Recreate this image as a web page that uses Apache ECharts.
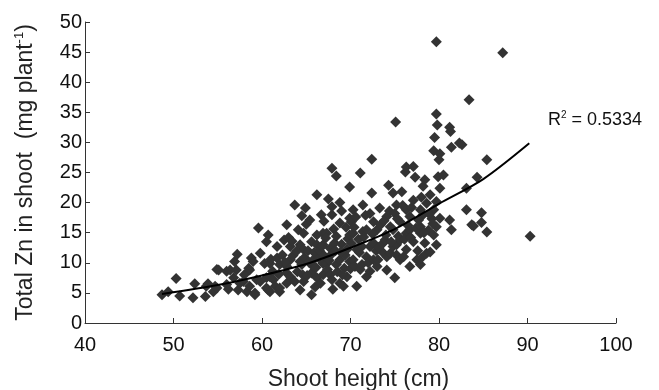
<!DOCTYPE html>
<html>
<head>
<meta charset="utf-8">
<script src="https://cdn.jsdelivr.net/npm/echarts@6/dist/echarts.min.js"></script>
<style>
  html, body { margin: 0; padding: 0; background: #fff; }
  #chart { width: 659px; height: 390px; }
</style>
</head>
<body>
<div id="chart"></div>
<script>
// scatter values (shoot height in cm, total Zn in mg/plant)
const shootHeight = [
  48.7, 49.4, 50.3, 50.7, 52.2, 52.4, 53.6, 53.7, 53.9, 54.5, 54.7, 54.9, 54.9, 55.1, 56.0, 56.0, 56.2, 56.4, 56.8, 57.1,
  56.9, 57.2, 57.3, 57.5, 57.9, 58.0, 58.3, 58.5, 58.6, 58.6, 58.8, 59.0, 59.2, 59.2, 59.4, 59.6, 59.8, 59.8, 60.3, 60.5,
  60.5, 60.5, 60.7, 60.7, 60.9, 60.9, 60.9, 61.0, 61.2, 61.3, 61.5, 61.7, 61.7, 62.0, 62.0, 62.0, 62.3, 62.5, 62.8, 62.8,
  62.8, 62.8, 63.0, 63.2, 63.2, 63.2, 63.5, 63.7, 63.7, 64.0, 64.1, 64.3, 64.3, 64.3, 64.5, 64.5, 64.7, 64.7, 64.7, 64.8,
  64.9, 65.0, 65.2, 65.4, 65.6, 65.6, 65.6, 65.8, 65.8, 65.9, 66.0, 66.2, 66.2, 66.2, 66.2, 66.4, 66.5, 66.6, 66.7, 66.9,
  66.9, 66.9, 66.9, 67.0, 67.0, 67.3, 67.3, 67.4, 67.5, 67.7, 67.7, 67.9, 67.9, 67.9, 67.9, 67.9, 68.0, 68.2, 68.3, 68.4,
  68.4, 68.4, 68.5, 68.8, 68.8, 68.8, 68.8, 69.0, 69.0, 69.2, 69.3, 69.4, 69.6, 69.6, 69.7, 69.9, 69.9, 69.9, 69.9, 70.0,
  70.1, 70.1, 70.3, 70.3, 70.3, 70.5, 70.7, 70.7, 70.9, 71.1, 71.1, 71.3, 71.3, 71.4, 71.4, 71.5, 71.8, 71.8, 71.8, 72.0,
  72.2, 72.2, 72.2, 72.4, 72.4, 72.6, 72.6, 72.6, 72.9, 73.0, 73.0, 73.1, 73.3, 73.4, 73.6, 73.7, 73.9, 74.0, 74.1, 74.1,
  74.1, 74.3, 74.4, 74.5, 74.5, 74.8, 74.8, 74.8, 75.0, 75.0, 75.1, 75.2, 75.2, 75.2, 75.4, 75.6, 75.6, 75.6, 75.8, 75.9,
  76.0, 76.2, 76.3, 76.3, 76.3, 76.3, 76.5, 76.7, 76.7, 76.7, 76.9, 77.1, 77.1, 77.1, 77.3, 77.4, 77.5, 77.6, 77.9, 77.9,
  77.9, 77.9, 78.0, 78.0, 78.2, 78.2, 78.4, 78.4, 78.6, 78.6, 78.8, 79.0, 79.0, 79.2, 79.4, 79.4, 79.4, 79.5, 79.7, 79.7,
  79.7, 79.7, 79.7, 79.8, 79.9, 80.0, 80.1, 80.1, 80.1, 80.5, 81.2, 81.2, 81.3, 81.4, 81.4, 82.3, 82.6, 83.1, 83.1, 83.4,
  83.7, 83.9, 84.3, 84.8, 84.8, 85.4, 85.4, 87.2, 90.3,
  // extra points in the dense middle where marks overlap
  63.9, 64.6, 65.3, 66.1, 66.8, 67.6, 68.1, 68.9, 69.5, 70.6, 71.0, 71.7, 72.5, 73.2, 73.8, 74.6, 75.3, 76.1, 76.8, 77.7,
  78.3, 78.9, 79.3, 61.9, 62.6, 63.4, 65.1, 67.2, 69.1, 70.4
];
const totalZn = [
  4.7, 5.2, 7.4, 4.5, 4.2, 6.5, 4.4, 6.1, 6.5, 5.2, 6.1, 8.9, 5.8, 8.8, 8.6, 6.4, 5.6, 8.8, 7.5, 8.8,
  10.2, 11.4, 5.5, 6.6, 6.9, 8.0, 5.2, 9.1, 6.1, 8.8, 10.8, 10.2, 5.0, 4.7, 7.2, 15.8, 11.6, 6.9, 9.9, 13.5,
  7.5, 5.8, 14.6, 5.5, 5.2, 9.9, 7.7, 10.6, 8.6, 7.2, 6.1, 12.7, 10.8, 9.7, 5.2, 5.8, 11.3, 13.8, 16.3, 6.6,
  8.3, 9.4, 14.2, 12.7, 10.5, 7.7, 11.2, 6.9, 19.6, 8.5, 15.5, 13.0, 10.2, 5.5, 9.7, 17.8, 14.9, 12.2, 6.9, 10.9,
  19.1, 16.4, 12.0, 17.1, 13.5, 4.7, 8.3, 10.5, 9.4, 11.7, 6.0, 21.3, 14.6, 13.0, 7.5, 10.8, 12.1, 6.6, 18.0, 13.0,
  14.9, 9.9, 8.0, 11.2, 16.9, 14.9, 9.9, 8.9, 20.6, 12.4, 8.0, 25.7, 18.0, 19.3, 7.2, 11.5, 5.6, 13.3, 12.0, 24.4,
  14.4, 9.7, 8.5, 20.0, 10.5, 16.6, 6.6, 13.1, 18.6, 6.1, 9.1, 11.3, 12.2, 7.7, 14.0, 22.6, 17.4, 14.6, 10.2, 9.0,
  16.8, 13.2, 18.8, 14.9, 10.5, 9.4, 6.1, 12.2, 13.9, 24.9, 8.9, 12.7, 9.7, 19.6, 15.2, 14.3, 15.5, 11.0, 7.7, 10.0,
  18.2, 12.7, 8.6, 27.2, 21.6, 16.8, 13.3, 10.5, 12.0, 9.4, 15.5, 10.5, 19.1, 16.3, 11.8, 13.3, 13.8, 14.6, 17.7, 8.8,
  11.0, 22.9, 18.6, 11.6, 16.0, 21.6, 15.5, 12.7, 18.2, 7.5, 33.4, 19.6, 11.3, 13.0, 14.4, 16.8, 13.8, 10.5, 21.8, 19.5,
  11.0, 25.1, 25.9, 18.8, 14.9, 12.2, 16.2, 15.5, 9.4, 17.7, 19.2, 26.0, 20.4, 13.5, 24.2, 15.8, 10.5, 12.0, 16.0, 9.7,
  18.8, 14.9, 10.8, 20.9, 18.0, 22.7, 23.8, 13.3, 11.6, 19.9, 15.4, 21.3, 11.8, 17.3, 28.6, 18.8, 14.6, 30.8, 46.7, 34.7,
  20.2, 16.0, 13.0, 32.9, 24.3, 27.1, 28.1, 22.4, 17.4, 24.6, 32.5, 17.1, 31.8, 29.2, 15.5, 29.9, 29.6, 22.4, 18.8, 37.1,
  16.3, 16.1, 24.2, 18.3, 16.7, 27.1, 15.1, 44.9, 14.4,
  11.9, 8.0, 10.1, 9.2, 12.8, 10.4, 15.6, 11.8, 15.9, 17.6, 11.7, 17.9, 14.8, 12.6, 17.0, 13.5, 17.3, 13.9, 14.2, 17.1,
  15.0, 18.1, 16.5, 8.1, 10.1, 13.6, 7.9, 14.1, 8.0, 15.9
];

// fitted trend line
const trendHeight = [48.7, 55, 60, 65, 70, 75, 80, 85, 90.2];
const trendZn = [4.8, 6.3, 7.9, 9.8, 12.5, 15.6, 19.8, 23.9, 29.85];

const rSquared = '0.5334';

const FONT = '"Liberation Sans", Arial, sans-serif';

const chart = echarts.init(document.getElementById('chart'));

const points = shootHeight.map((h, i) => [h, totalZn[i]]);
const trend = trendHeight.map((h, i) => [h, trendZn[i]]);

chart.setOption({
  animation: false,
  backgroundColor: '#fff',
  grid: { left: 85, right: 43, top: 22, bottom: 67, outerBoundsMode: 'none' },
  xAxis: {
    type: 'value',
    min: 40,
    max: 100,
    interval: 10,
    name: 'Shoot height (cm)',
    nameLocation: 'middle',
    nameGap: 45,
    nameMoveOverlap: false,
    nameTextStyle: { fontFamily: FONT, fontSize: 23, color: '#222', padding: [0, 0, 0, 16] },
    axisLine: { lineStyle: { color: '#333', width: 1 } },
    axisTick: { inside: true, length: 5, lineStyle: { color: '#333' } },
    axisLabel: { fontFamily: FONT, fontSize: 20, color: '#111', margin: 12 },
    splitLine: { show: false }
  },
  yAxis: {
    type: 'value',
    min: 0,
    max: 50,
    interval: 5,
    name: '{a|Total Zn in shoot  (mg plant}{s|-1}{a|)}',
    nameLocation: 'middle',
    nameGap: 47,
    nameMoveOverlap: false,
    nameTextStyle: {
      rich: {
        a: { fontFamily: FONT, fontSize: 23, color: '#222' },
        s: { fontFamily: FONT, fontSize: 13, color: '#222', padding: [0, 0, 12, 0] }
      }
    },
    axisLine: { show: true, lineStyle: { color: '#333', width: 1 } },
    axisTick: { show: true, inside: true, length: 5, lineStyle: { color: '#333' } },
    axisLabel: { fontFamily: FONT, fontSize: 20, color: '#111', margin: 3 },
    splitLine: { show: false }
  },
  graphic: [{
    type: 'text',
    left: 548,
    top: 110,
    style: {
      text: '{a|R}{s|2}{a| = ' + rSquared + '}',
      rich: {
        a: { fontFamily: FONT, fontSize: 18, fill: '#111' },
        s: { fontFamily: FONT, fontSize: 10, fill: '#111', padding: [0, 0, 10, 0] }
      }
    }
  }],
  series: [
    {
      name: 'Plants',
      type: 'scatter',
      symbol: 'diamond',
      symbolSize: 11,
      itemStyle: { color: '#333', opacity: 1 },
      data: points,
      z: 2
    },
    {
      name: 'Trend',
      type: 'line',
      smooth: 0.3,
      symbol: 'none',
      lineStyle: { color: '#000', width: 2 },
      data: trend,
      z: 3
    }
  ]
});
</script>
</body>
</html>
